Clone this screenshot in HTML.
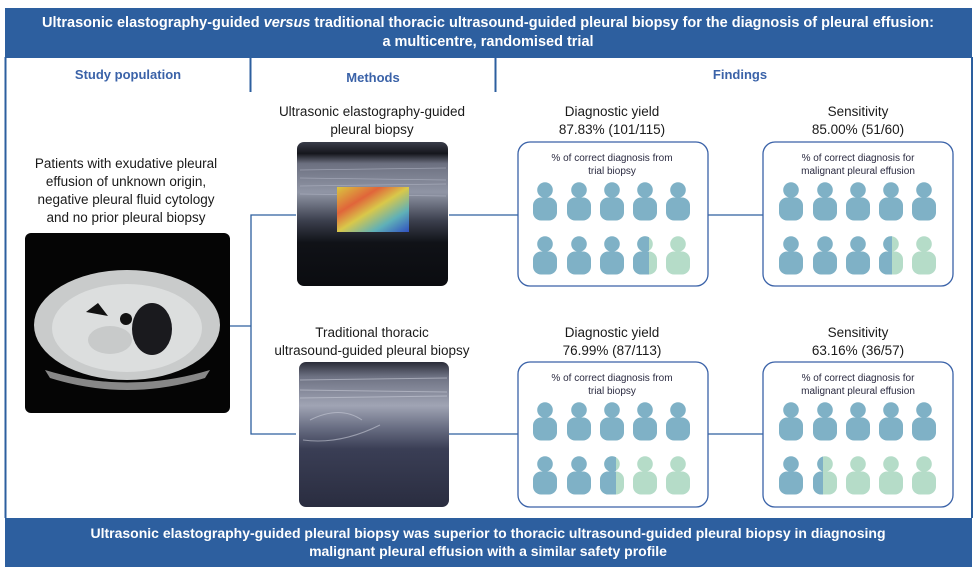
<!DOCTYPE html>
<html><head><meta charset="utf-8"><style>
html,body{margin:0;padding:0;background:#fff}
svg{display:block}
text{font-family:"Liberation Sans",sans-serif}
</style></head><body>
<svg width="978" height="574" viewBox="0 0 978 574" xmlns="http://www.w3.org/2000/svg">
<defs>
<g id="p"><circle cx="0" cy="0" r="7.8"/><rect x="-12" y="7.5" width="24" height="23" rx="8"/></g>
<clipPath id="c1"><rect x="-20" y="-20" width="24" height="60"/></clipPath>
<clipPath id="c2"><rect x="-20" y="-20" width="21" height="60"/></clipPath>
<clipPath id="c3"><rect x="-20" y="-20" width="24" height="60"/></clipPath>
<clipPath id="c4"><rect x="-20" y="-20" width="18" height="60"/></clipPath>
<linearGradient id="us1" x1="0" y1="0" x2="0" y2="1">
<stop offset="0" stop-color="#3a3d4a"/><stop offset="0.08" stop-color="#15161c"/><stop offset="0.15" stop-color="#6c7080"/><stop offset="0.35" stop-color="#9095a5"/><stop offset="0.55" stop-color="#3a3e4c"/><stop offset="0.7" stop-color="#101217"/><stop offset="1" stop-color="#0b0c10"/></linearGradient>
<linearGradient id="us2" x1="0" y1="0" x2="0" y2="1">
<stop offset="0" stop-color="#2a2c38"/><stop offset="0.1" stop-color="#6d7182"/><stop offset="0.3" stop-color="#a0a4b4"/><stop offset="0.45" stop-color="#6a6f84"/><stop offset="0.6" stop-color="#3a3e55"/><stop offset="1" stop-color="#2a2d40"/></linearGradient>
<linearGradient id="el" x1="0" y1="0" x2="1" y2="1">
<stop offset="0" stop-color="#d9c640"/><stop offset="0.3" stop-color="#e0653a"/><stop offset="0.5" stop-color="#d9c84a"/><stop offset="0.75" stop-color="#5fb0b8"/><stop offset="1" stop-color="#3050c0"/></linearGradient>
</defs>

<rect x="5" y="8" width="967" height="50" fill="#2d5f9f"/>
<text x="488" y="27" fill="#fff" font-size="14.5" font-weight="bold" text-anchor="middle">Ultrasonic elastography-guided <tspan font-style="italic">versus</tspan> traditional thoracic ultrasound-guided pleural biopsy for the diagnosis  of pleural effusion:</text>
<text x="488" y="46" fill="#fff" font-size="14.5" font-weight="bold" text-anchor="middle">a multicentre, randomised trial</text>

<g stroke="#2d5f9f" stroke-width="2" fill="none">
<line x1="5.5" y1="57" x2="5.5" y2="518"/>
<line x1="972" y1="57" x2="972" y2="518"/>
<line x1="250.5" y1="57" x2="250.5" y2="92"/>
<line x1="495.5" y1="57" x2="495.5" y2="92"/>
</g>
<text x="128" y="79" fill="#3a62a8" font-size="13" font-weight="bold" text-anchor="middle">Study population</text>
<text x="373" y="82" fill="#3a62a8" font-size="13" font-weight="bold" text-anchor="middle">Methods</text>
<text x="740" y="79" fill="#3a62a8" font-size="13" font-weight="bold" text-anchor="middle">Findings</text>

<g stroke="#2d5f9f" stroke-width="1.3" fill="none">
<polyline points="296,215 251,215 251,434 296,434"/>
<line x1="230" y1="326" x2="251" y2="326"/>
<line x1="449" y1="215" x2="518" y2="215"/>
<line x1="449" y1="434" x2="518" y2="434"/>
<line x1="708" y1="215" x2="763" y2="215"/>
<line x1="708" y1="434" x2="763" y2="434"/>
</g>

<g fill="#1a1a1a" font-size="13.5" text-anchor="middle">
<text x="126" y="168">Patients with exudative pleural</text>
<text x="126" y="186">effusion of unknown origin,</text>
<text x="126" y="204">negative pleural fluid cytology</text>
<text x="126" y="222">and no prior pleural biopsy</text>
</g>
<rect x="25" y="233" width="205" height="180" rx="6" fill="#050505"/>
<ellipse cx="127" cy="325" rx="93" ry="55" fill="#c9cbcb"/>
<ellipse cx="127" cy="328" rx="75" ry="44" fill="#dcdede"/>
<path d="M86,312 L98,303 L108,316 Z" fill="#111"/>
<ellipse cx="152" cy="329" rx="20" ry="26" fill="#1a1a1e"/>
<circle cx="126" cy="319" r="6" fill="#111"/>
<ellipse cx="110" cy="340" rx="22" ry="14" fill="#c8caca"/>
<path d="M45,370 Q127,395 210,370 L205,378 Q127,402 50,378Z" fill="#888"/>

<g fill="#1a1a1a" font-size="13.5" text-anchor="middle">
<text x="372" y="116">Ultrasonic elastography-guided</text>
<text x="372" y="134">pleural biopsy</text>
<text x="372" y="337">Traditional thoracic</text>
<text x="372" y="355">ultrasound-guided pleural biopsy</text>
</g>
<rect x="297" y="142" width="151" height="144" rx="7" fill="url(#us1)"/>
<g stroke="#b8bccb" stroke-width="0.8" opacity="0.6">
<line x1="300" y1="170" x2="446" y2="168"/><line x1="300" y1="178" x2="446" y2="180"/><line x1="300" y1="186" x2="446" y2="184"/><line x1="300" y1="194" x2="446" y2="196"/>
</g>
<rect x="337" y="187" width="72" height="45" fill="url(#el)"/>
<rect x="299" y="362" width="150" height="145" rx="7" fill="url(#us2)"/>
<g stroke="#c7cad6" stroke-width="1" opacity="0.6" fill="none">
<line x1="300" y1="380" x2="447" y2="378"/><line x1="300" y1="390" x2="447" y2="392"/><line x1="300" y1="398" x2="447" y2="396"/>
<path d="M303,440 Q340,445 380,425"/><path d="M310,420 Q340,405 362,420"/>
</g>

<g fill="#1a1a1a" font-size="13.5" text-anchor="middle">
<text x="612" y="116">Diagnostic yield</text><text x="612" y="134">87.83% (101/115)</text>
<text x="858" y="116">Sensitivity</text><text x="858" y="134">85.00% (51/60)</text>
<text x="612" y="337">Diagnostic yield</text><text x="612" y="355">76.99% (87/113)</text>
<text x="858" y="337">Sensitivity</text><text x="858" y="355">63.16% (36/57)</text>
</g>
<g fill="#fff" stroke="#3a62a8" stroke-width="1.3">
<rect x="518" y="142" width="190" height="144" rx="12"/>
<rect x="763" y="142" width="190" height="144" rx="12"/>
<rect x="518" y="362" width="190" height="145" rx="12"/>
<rect x="763" y="362" width="190" height="145" rx="12"/>
</g>
<g fill="#2a2a40" font-size="10" text-anchor="middle">
<text x="612" y="161">% of correct diagnosis from</text><text x="612" y="174">trial biopsy</text>
<text x="858" y="161">% of correct diagnosis for</text><text x="858" y="174">malignant pleural effusion</text>
<text x="612" y="381">% of correct diagnosis from</text><text x="612" y="394">trial biopsy</text>
<text x="858" y="381">% of correct diagnosis for</text><text x="858" y="394">malignant pleural effusion</text>
</g>

<g fill="#7fb1c6">
<use href="#p" x="545" y="190"/><use href="#p" x="579" y="190"/><use href="#p" x="612" y="190"/><use href="#p" x="645" y="190"/><use href="#p" x="678" y="190"/>
<use href="#p" x="545" y="244"/><use href="#p" x="579" y="244"/><use href="#p" x="612" y="244"/>
<use href="#p" x="791" y="190"/><use href="#p" x="825" y="190"/><use href="#p" x="858" y="190"/><use href="#p" x="891" y="190"/><use href="#p" x="924" y="190"/>
<use href="#p" x="791" y="244"/><use href="#p" x="825" y="244"/><use href="#p" x="858" y="244"/>
<use href="#p" x="545" y="410"/><use href="#p" x="579" y="410"/><use href="#p" x="612" y="410"/><use href="#p" x="645" y="410"/><use href="#p" x="678" y="410"/>
<use href="#p" x="545" y="464"/><use href="#p" x="579" y="464"/>
<use href="#p" x="791" y="410"/><use href="#p" x="825" y="410"/><use href="#p" x="858" y="410"/><use href="#p" x="891" y="410"/><use href="#p" x="924" y="410"/>
<use href="#p" x="791" y="464"/>
</g>
<g fill="#b5dcc8">
<use href="#p" x="645" y="244"/><use href="#p" x="678" y="244"/>
<use href="#p" x="891" y="244"/><use href="#p" x="924" y="244"/>
<use href="#p" x="612" y="464"/><use href="#p" x="645" y="464"/><use href="#p" x="678" y="464"/>
<use href="#p" x="825" y="464"/><use href="#p" x="858" y="464"/><use href="#p" x="891" y="464"/><use href="#p" x="924" y="464"/>
</g>
<g fill="#7fb1c6">
<g transform="translate(645,244)"><use href="#p" clip-path="url(#c1)"/></g>
<g transform="translate(891,244)"><use href="#p" clip-path="url(#c2)"/></g>
<g transform="translate(612,464)"><use href="#p" clip-path="url(#c3)"/></g>
<g transform="translate(825,464)"><use href="#p" clip-path="url(#c4)"/></g>
</g>

<rect x="5" y="518" width="967" height="49" fill="#2d5f9f"/>
<text x="488" y="538" fill="#fff" font-size="14" font-weight="bold" text-anchor="middle">Ultrasonic elastography-guided pleural biopsy was superior to thoracic ultrasound-guided pleural biopsy in diagnosing</text>
<text x="488" y="556" fill="#fff" font-size="14" font-weight="bold" text-anchor="middle">malignant pleural effusion with a similar safety profile</text>
</svg>
</body></html>
